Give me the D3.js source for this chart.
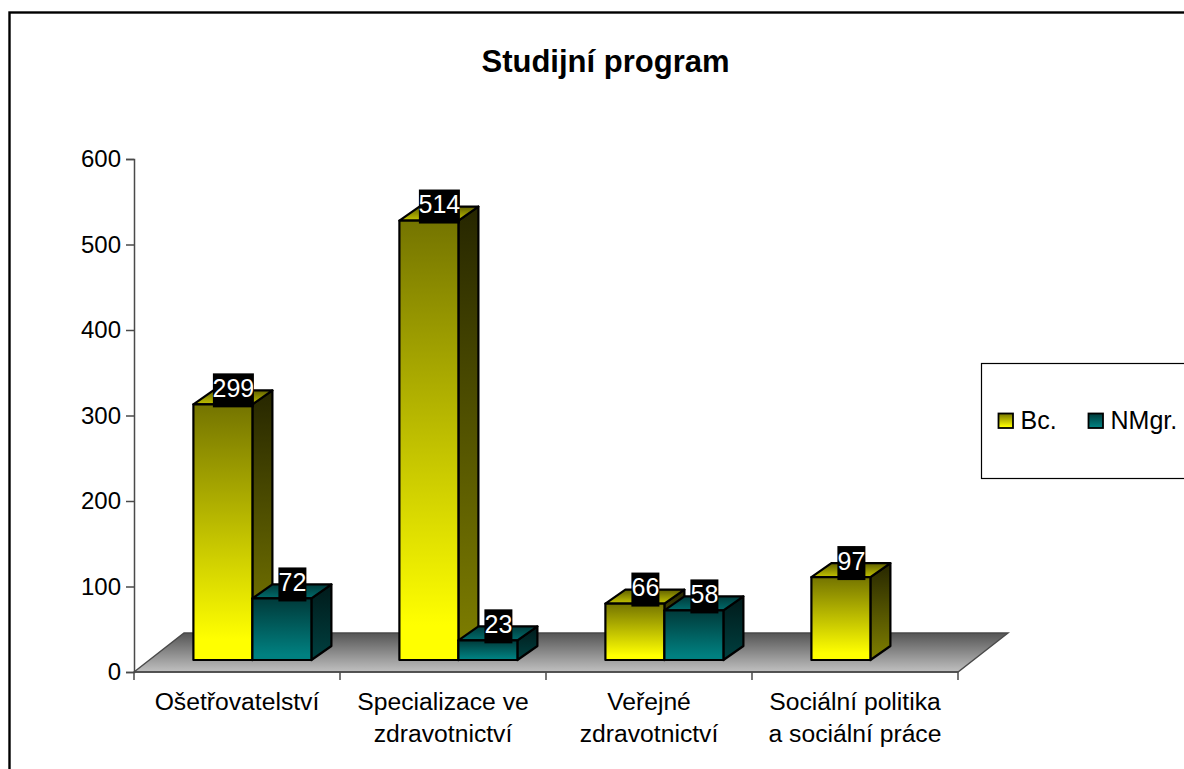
<!DOCTYPE html>
<html>
<head>
<meta charset="utf-8">
<title>Studijní program</title>
<script src="https://cdn.jsdelivr.net/npm/d3@7"></script>
<style>
  html, body { margin: 0; padding: 0; background: #fff; overflow: hidden; }
  svg { display: block; }
  text { font-family: "Liberation Sans", Arial, sans-serif; fill: #000; }
</style>
</head>
<body>
<div id="canvas"></div>
<script>
/* THE VALUES */
const categories = ["Ošetřovatelství", "Specializace ve zdravotnictví", "Veřejné zdravotnictví", "Sociální politika a sociální práce"];
const categoryLines = [["Ošetřovatelství"], ["Specializace ve", "zdravotnictví"], ["Veřejné", "zdravotnictví"], ["Sociální politika", "a sociální práce"]];
const seriesNames = ["Bc.", "NMgr."];
const bcValues = [299, 514, 66, 97];
const nmgrValues = [72, 23, 58, null];
const valueTicks = [0, 100, 200, 300, 400, 500, 600];

/* CREATE THE SVG CANVAS */
const width = 1184;
const height = 769;

const svg = d3.select("#canvas")
    .append("svg")
    .attr("width", width)
    .attr("height", height);

/* GRADIENTS: ONE PER FACE AND SERIES, PLUS THE FLOOR */
const defs = svg.append("defs");

function addGradient(id, top, bottom, end) {
    const g = defs.append("linearGradient")
        .attr("id", id)
        .attr("x1", 0).attr("y1", 0)
        .attr("x2", 0).attr("y2", 1);
    g.append("stop").attr("offset", "0%").attr("stop-color", top);
    g.append("stop").attr("offset", end).attr("stop-color", bottom);
}

addGradient("bc-front", "#747400", "#ffff00", "92%");
addGradient("bc-side", "#262600", "#808000", "100%");
addGradient("bc-top", "#5f5f00", "#c4c400", "100%");
addGradient("nmgr-front", "#003a3a", "#008080", "92%");
addGradient("nmgr-side", "#001a1a", "#004040", "100%");
addGradient("nmgr-top", "#003a3a", "#006c6c", "100%");
addGradient("floor", "#555555", "#c0c0c0", "100%");

const faceNames = ["bc", "nmgr"];

/* SCALES */
const x = d3.scaleBand().domain(categories).range([134, 958]);
const inner = d3.scaleBand().domain(seriesNames).range([59.4, 177.4]);
const y = d3.scaleLinear().domain([0, 600]).range([672, 159]);

/* 3D OFFSETS */
const floorDepth = { dx: 50, dy: -39 };
const barDepth = { dx: 20, dy: -14 };
const barBaseShift = -12;

/* OUTER FRAME, RUNS OFF THE PICTURE ON THE RIGHT AND AT THE BOTTOM */
svg.append("rect")
    .attr("x", 9.5)
    .attr("y", 12.5)
    .attr("width", width + 20)
    .attr("height", height + 20)
    .attr("fill", "#fff")
    .attr("stroke", "#000")
    .attr("stroke-width", 2.4);

/* TITLE */
svg.append("text")
    .attr("x", 605.5)
    .attr("y", 72)
    .attr("text-anchor", "middle")
    .attr("font-size", 31)
    .attr("font-weight", "bold")
    .text("Studijní program");

/* FLOOR */
const floorLeft = x.range()[0];
const floorRight = x.range()[1];
svg.append("polygon")
    .attr("points", [
        [floorLeft, y(0)],
        [floorRight, y(0)],
        [floorRight + floorDepth.dx, y(0) + floorDepth.dy],
        [floorLeft + floorDepth.dx, y(0) + floorDepth.dy]
    ].join(" "))
    .attr("fill", "url(#floor)")
    .attr("stroke", "#4a4a4a")
    .attr("stroke-width", 1.4);

/* VALUE AXIS */
const yAxis = d3.axisLeft(y)
    .tickValues(valueTicks)
    .tickSize(8)
    .tickPadding(5);

const yGroup = svg.append("g")
    .attr("transform", "translate(134,0)")
    .call(yAxis);
yGroup.selectAll("text").attr("font-size", 24).attr("font-family", null);
yGroup.selectAll("line, path").attr("stroke", "#4a4a4a").attr("stroke-width", 1.5);

/* CATEGORY AXIS: TICKS SIT BETWEEN THE CATEGORIES */
svg.append("line")
    .attr("x1", floorLeft).attr("x2", floorRight)
    .attr("y1", y(0)).attr("y2", y(0))
    .attr("stroke", "#4a4a4a")
    .attr("stroke-width", 1.5);

svg.selectAll(".x-tick")
    .data(categories.concat([null]))
    .join("line")
    .attr("class", "x-tick")
    .attr("x1", d => d === null ? floorRight : x(d))
    .attr("x2", d => d === null ? floorRight : x(d))
    .attr("y1", y(0))
    .attr("y2", y(0) + 8)
    .attr("stroke", "#4a4a4a")
    .attr("stroke-width", 1.5);

const xLabels = svg.selectAll(".x-label")
    .data(categories)
    .join("text")
    .attr("class", "x-label")
    .attr("text-anchor", "middle")
    .attr("font-size", 24.7);

xLabels.selectAll("tspan")
    .data((d, i) => categoryLines[i].map(line => ({ cat: d, line: line })))
    .join("tspan")
    .attr("x", d => x(d.cat) + x.bandwidth() / 2)
    .attr("y", (d, i) => 710 + i * 32)
    .text(d => d.line);

/* BARS */
const bars = [];
categories.forEach(function(cat, i) {
    [bcValues[i], nmgrValues[i]].forEach(function(value, s) {
        if (value !== null) {
            bars.push({ cat: cat, series: seriesNames[s], face: faceNames[s], value: value });
        }
    });
});

const barGroups = svg.selectAll(".bar")
    .data(bars)
    .join("g")
    .attr("class", "bar")
    .attr("stroke", "#000")
    .attr("stroke-width", 2.2)
    .attr("stroke-linejoin", "round");

function corners(d) {
    const left = x(d.cat) + inner(d.series);
    const right = left + inner.bandwidth();
    const top = y(d.value) + barBaseShift;
    const base = y(0) + barBaseShift;
    return { left, right, top, base };
}

barGroups.append("polygon")
    .attr("fill", d => `url(#${d.face}-side)`)
    .attr("points", function(d) {
        const c = corners(d);
        return [
            [c.right, c.top],
            [c.right + barDepth.dx, c.top + barDepth.dy],
            [c.right + barDepth.dx, c.base + barDepth.dy],
            [c.right, c.base]
        ].join(" ");
    });

barGroups.append("polygon")
    .attr("fill", d => `url(#${d.face}-top)`)
    .attr("points", function(d) {
        const c = corners(d);
        return [
            [c.left, c.top],
            [c.right, c.top],
            [c.right + barDepth.dx, c.top + barDepth.dy],
            [c.left + barDepth.dx, c.top + barDepth.dy]
        ].join(" ");
    });

barGroups.append("rect")
    .attr("fill", d => `url(#${d.face}-front)`)
    .attr("x", d => corners(d).left)
    .attr("y", d => corners(d).top)
    .attr("width", inner.bandwidth())
    .attr("height", d => corners(d).base - corners(d).top);

/* VALUE LABELS: WHITE ON BLACK, DRAWN AFTER ALL THE BARS */
const labels = svg.selectAll(".value-label")
    .data(bars)
    .join("g")
    .attr("class", "value-label")
    .attr("transform", d => `translate(${corners(d).left + 40},${corners(d).top - 14})`);

labels.append("rect")
    .attr("x", d => d.value >= 100 ? -20.5 : -14)
    .attr("y", -17)
    .attr("width", d => d.value >= 100 ? 41 : 28)
    .attr("height", 34)
    .attr("fill", "#000");

labels.append("text")
    .attr("text-anchor", "middle")
    .attr("y", 6.5)
    .attr("font-size", 25)
    .style("fill", "#fff")
    .text(d => d.value);

/* LEGEND */
svg.append("rect")
    .attr("x", 981.5)
    .attr("y", 363.5)
    .attr("width", width)
    .attr("height", 115)
    .attr("fill", "#fff")
    .attr("stroke", "#000")
    .attr("stroke-width", 1.2);

const legendX = d3.scaleOrdinal().domain(seriesNames).range([998.5, 1088.5]);

const legendItems = svg.selectAll(".legend-item")
    .data(seriesNames)
    .join("g")
    .attr("class", "legend-item")
    .attr("transform", d => `translate(${legendX(d)},413.5)`);

legendItems.append("rect")
    .attr("width", 14.5)
    .attr("height", 14.5)
    .attr("fill", (d, i) => `url(#${faceNames[i]}-front)`)
    .attr("stroke", "#000")
    .attr("stroke-width", 1.8);

legendItems.append("text")
    .attr("x", 22)
    .attr("y", 15)
    .attr("font-size", 25)
    .text(d => d);
</script>
</body>
</html>
